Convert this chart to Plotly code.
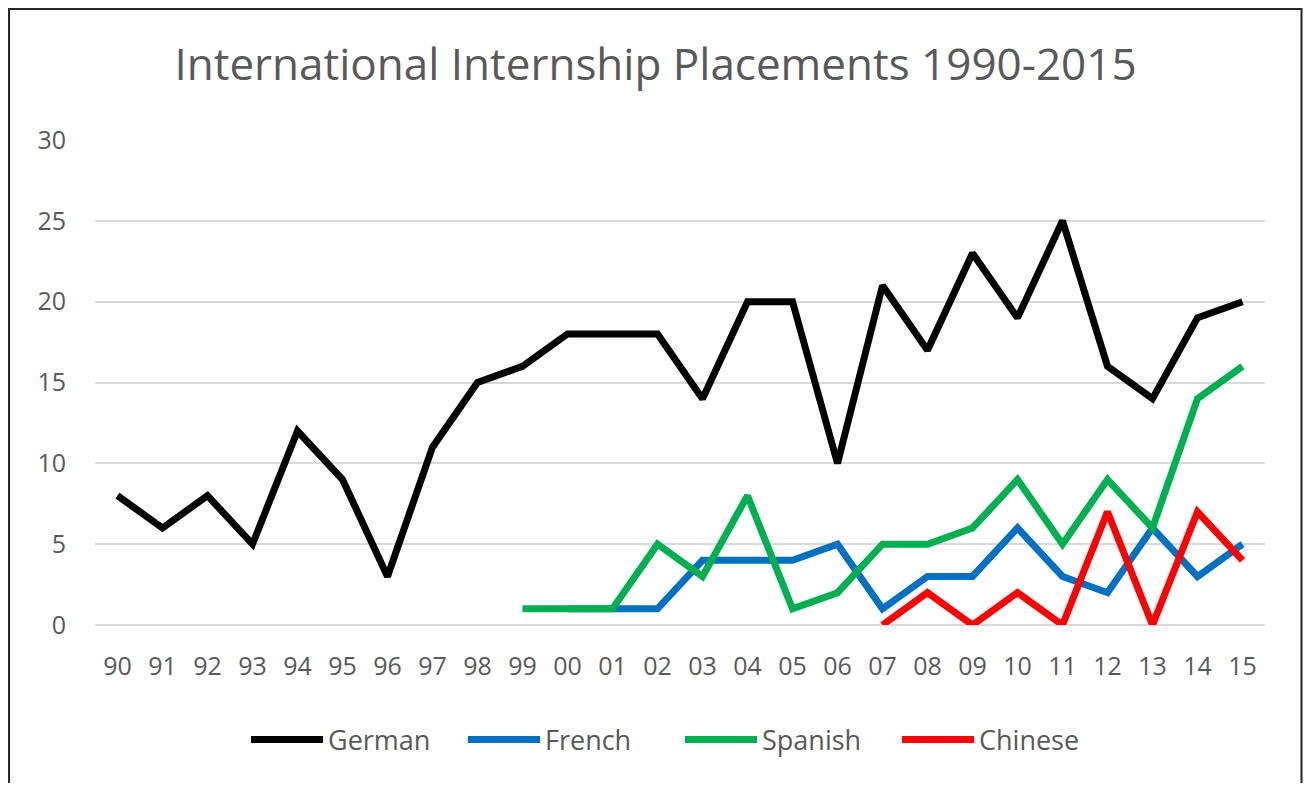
import plotly.graph_objects as go

years = ["90","91","92","93","94","95","96","97","98","99","00","01","02",
         "03","04","05","06","07","08","09","10","11","12","13","14","15"]
german = [8,6,8,5,12,9,3,11,15,16,18,18,18,14,20,20,10,21,17,23,19,25,16,14,19,20]
french = [None]*10 + [1,1,1,4,4,4,5,1,3,3,6,3,2,6,3,5]
spanish = [None]*9 + [1,1,1,5,3,8,1,2,5,5,6,9,5,9,6,14,16]
chinese = [None]*17 + [0,2,0,2,0,7,0,7,4]

series = [("German", german, "#000000"),
          ("French", french, "#0070C0"),
          ("Spanish", spanish, "#00B050"),
          ("Chinese", chinese, "#FF0000")]

fig = go.Figure()
for name, vals, col in series:
    fig.add_trace(go.Scatter(x=years, y=vals, name=name, mode="lines",
                             line=dict(color=col, width=7),
                             connectgaps=False))

# page body has an 8px margin; size the figure to fit the window
W, H = 1295, 775
ml, mt = 87, 132
mr = W - 1257.5
mb = H - 617
pw, ph = W - ml - mr, H - mt - mb

fig.update_layout(
    width=W, height=H,
    margin=dict(l=ml, r=mr, t=mt, b=mb),
    paper_bgcolor="white", plot_bgcolor="white",
    font=dict(family="Open Sans", color="#595959", size=25),
    title=dict(text="International Internship Placements 1990-2015",
               x=0.5, xanchor="center", y=1 - 57/H, yanchor="middle",
               font=dict(size=44, color="#595959")),
    xaxis=dict(type="category", range=[-0.5, 25.5], showgrid=False,
               showline=False, ticks="", tickfont=dict(size=25),
               ticklabelstandoff=24),
    yaxis=dict(range=[0, 30], dtick=5, showgrid=True, gridcolor="#D9D9D9",
               gridwidth=2, zeroline=True, zerolinecolor="#D9D9D9",
               zerolinewidth=2, showline=False, ticks="",
               tickfont=dict(size=25), ticklabelstandoff=28),
    legend=dict(orientation="h", x=0.5, xanchor="center",
                y=-115 / ph, yanchor="middle",
                font=dict(size=27, color="#595959"),
                entrywidth=130, itemwidth=72),
    showlegend=True,
)

fig.add_shape(type="rect", xref="paper", yref="paper",
              x0=(1 - ml) / pw, x1=(W - 1 - ml) / pw,
              y0=(-mb - 100) / ph, y1=1 + (mt - 1) / ph,
              line=dict(color="#262626", width=2), fillcolor="rgba(0,0,0,0)",
              layer="below")

fig.write_html("out.html")
